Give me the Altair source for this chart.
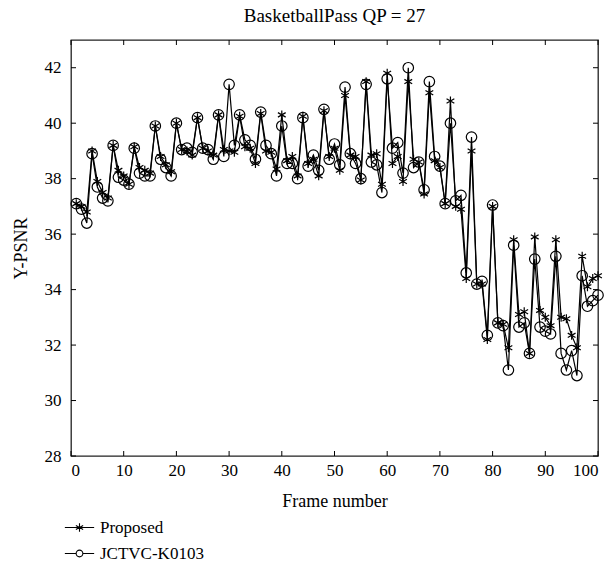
import altair as alt
import pandas as pd

frames = list(range(1, 101))

proposed = [
    37.1, 37.0, 36.8, 39.0, 37.9, 37.5, 37.3, 39.2, 38.3, 38.1,
    37.8, 39.15, 38.4, 38.3, 38.2, 39.9, 38.8, 38.5, 38.25, 40.0,
    39.05, 39.0, 38.85, 40.2, 39.1, 39.0, 38.85, 40.3, 39.05, 39.0,
    38.95, 40.25, 39.15, 39.1, 38.55, 40.35, 39.0, 38.95, 38.35, 40.3,
    38.65, 38.8, 38.1, 40.25, 38.55, 38.7, 38.1, 40.45, 38.8, 39.1,
    38.3, 41.0, 38.85, 38.8, 37.95, 41.5, 38.85, 38.9, 37.8, 41.8,
    38.55, 38.8, 37.9, 41.5, 38.7, 38.6, 37.45, 41.1, 38.65, 38.4,
    37.1, 40.8, 37.0, 36.9, 34.4, 39.0, 34.2, 34.2, 32.2, 37.0,
    32.8, 32.75, 31.9, 35.8, 33.1, 33.2, 31.7, 35.9, 33.25, 33.0,
    32.7, 35.8, 33.0, 32.95, 32.35, 31.9, 35.2, 34.1, 34.4, 34.5,
]

jctvc = [
    37.1, 36.9, 36.4, 38.9, 37.7, 37.3, 37.2, 39.2, 38.05, 37.95,
    37.8, 39.1, 38.2, 38.1, 38.1, 39.9, 38.7, 38.4, 38.1, 40.0,
    39.05, 39.1, 38.95, 40.2, 39.1, 39.05, 38.7, 40.3, 38.8, 41.4,
    39.2, 40.3, 39.4, 39.2, 38.7, 40.4, 39.2, 38.9, 38.1, 39.9,
    38.55, 38.55, 38.0, 40.2, 38.45, 38.85, 38.3, 40.5, 38.7, 39.25,
    38.5, 41.3, 38.9, 38.55, 38.0, 41.4, 38.6, 38.5, 37.5, 41.6,
    39.1, 39.3, 38.2, 42.0, 38.4, 38.6, 37.6, 41.5, 38.8, 38.45,
    37.1, 40.0, 37.2, 37.4, 34.6, 39.5, 34.2, 34.3, 32.35, 37.05,
    32.8, 32.7, 31.1, 35.6, 32.65, 32.8, 31.7, 35.1, 32.65, 32.5,
    32.4, 35.2, 31.7, 31.1, 31.8, 30.9, 34.5, 33.4, 33.6, 33.8,
]

methods = ["Proposed", "JCTVC-K0103"]
x_ticks = [0, 10, 20, 30, 40, 50, 60, 70, 80, 90, 100]
y_ticks = [28, 30, 32, 34, 36, 38, 40, 42]

W, H = 527, 416
FONT = "Liberation Serif"
FS = 17
TFS = 18

df = pd.DataFrame({
    "frame": frames * 2,
    "psnr": proposed + jctvc,
    "method": [methods[0]] * len(frames) + [methods[1]] * len(frames),
})
dfp = df[df.method == methods[0]]
dfj = df[df.method == methods[1]]

xscale = alt.Scale(domain=[0, 100], nice=False)
yscale = alt.Scale(domain=[28, 43], nice=False)

X = alt.X("frame:Q", scale=xscale,
          axis=alt.Axis(values=x_ticks, ticks=False, domain=False, grid=False,
                        labelPadding=6, title="Frame number", titlePadding=14,
                        labelFont=FONT, titleFont=FONT, labelFontSize=FS, titleFontSize=TFS,
                        labelColor="black", titleColor="black", titleFontWeight="normal"))
Y = alt.Y("psnr:Q", scale=yscale,
          axis=alt.Axis(values=y_ticks, ticks=False, domain=False, grid=False,
                        labelPadding=10, title="Y-PSNR", titlePadding=14,
                        labelFont=FONT, titleFont=FONT, labelFontSize=FS, titleFontSize=TFS,
                        labelColor="black", titleColor="black", titleFontWeight="normal"))

ASTER = "M 0 -1 L 0 1 M -0.87 -0.5 L 0.87 0.5 M -0.87 0.5 L 0.87 -0.5"
LEG_ASTER = "M -3.5 0 L 3.5 0 M 0 -1 L 0 1 M -0.87 -0.5 L 0.87 0.5 M -0.87 0.5 L 0.87 -0.5"
LEG_CIRC = "M -3.5 0 L -0.8 0 M 0.8 0 L 3.5 0 M 0.8 0 A 0.8 0.8 0 1 1 -0.8 0 A 0.8 0.8 0 1 1 0.8 0"

lines = alt.Chart(df).mark_line(color="black", strokeWidth=1.2).encode(
    x=X, y=Y, detail="method:N", order="frame:Q")


def leg(symbol, ly):
    return alt.Legend(title=None, orient="none", legendX=0, legendY=ly,
                      symbolType=symbol, symbolSize=70, symbolStrokeWidth=1.1,
                      labelOffset=12, padding=0, labelFont=FONT, labelFontSize=FS,
                      labelColor="black")


pts_p = alt.Chart(dfp).mark_point(shape=ASTER, filled=False, size=80, strokeWidth=1.2, opacity=1).encode(
    x="frame:Q", y="psnr:Q",
    color=alt.Color("method:N", scale=alt.Scale(domain=[methods[0]], range=["black"]),
                    legend=leg(LEG_ASTER, 479)))

pts_j = alt.Chart(dfj).mark_point(shape="circle", filled=False, size=110, strokeWidth=1.2, opacity=1).encode(
    x="frame:Q", y="psnr:Q",
    color=alt.Color("method:N", scale=alt.Scale(domain=[methods[1]], range=["black"]),
                    legend=leg(LEG_CIRC, 505)))

xt = pd.DataFrame({"frame": x_ticks})
yt = pd.DataFrame({"psnr": y_ticks})
TL = 5
tick_b = alt.Chart(xt).mark_rule(color="black").encode(x="frame:Q", y=alt.value(H), y2=alt.value(H - TL))
tick_t = alt.Chart(xt).mark_rule(color="black").encode(x="frame:Q", y=alt.value(0), y2=alt.value(TL))
tick_l = alt.Chart(yt).mark_rule(color="black").encode(y="psnr:Q", x=alt.value(0), x2=alt.value(TL))
tick_r = alt.Chart(yt).mark_rule(color="black").encode(y="psnr:Q", x=alt.value(W), x2=alt.value(W - TL))

chart = alt.layer(lines, tick_b, tick_t, tick_l, tick_r, pts_p, pts_j).resolve_scale(
    color="independent"
).properties(
    width=W, height=H,
    background="white",
    title=alt.Title("BasketballPass QP = 27", font=FONT, fontSize=19, fontWeight="normal",
                    color="black", offset=14),
    autosize=alt.AutoSizeParams(type="none"),
    padding={"left": 71, "top": 40, "right": 15, "bottom": 124},
).configure_view(
    stroke="#222", strokeWidth=1.3
)

chart.save("out.html", embed_options={"renderer": "svg", "actions": False})
